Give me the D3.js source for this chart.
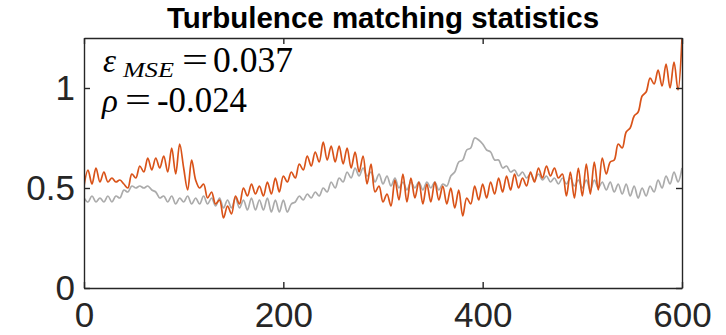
<!DOCTYPE html>
<html>
<head>
<meta charset="utf-8">
<script src="https://cdn.jsdelivr.net/npm/d3@7"></script>
<style>
  html, body { margin: 0; padding: 0; background: #fff; }
  svg { display: block; }
</style>
</head>
<body>
<svg id="chart" width="726" height="335"></svg>
<script>
// Sample spacing along the horizontal axis
const sampleStep = 4;

// Reconstructed turbulence signal (orange)
const reconstructed = [
  0.51, 0.59, 0.52, 0.60, 0.53, 0.58, 0.53, 0.55, 0.53, 0.54,
  0.52, 0.50, 0.57, 0.55, 0.61, 0.58, 0.65, 0.59, 0.65, 0.60,
  0.66, 0.58, 0.70, 0.57, 0.72, 0.60, 0.49, 0.64, 0.54, 0.50,
  0.52, 0.45, 0.48, 0.42, 0.44, 0.35, 0.41, 0.37, 0.46, 0.42,
  0.50, 0.46, 0.52, 0.47, 0.51, 0.46, 0.53, 0.47, 0.55, 0.48,
  0.56, 0.53, 0.58, 0.55, 0.62, 0.59, 0.66, 0.61, 0.68, 0.63,
  0.73, 0.64, 0.71, 0.63, 0.71, 0.62, 0.70, 0.60, 0.68, 0.58,
  0.66, 0.52, 0.62, 0.48, 0.51, 0.43, 0.47, 0.41, 0.54, 0.44,
  0.57, 0.43, 0.55, 0.45, 0.53, 0.42, 0.52, 0.43, 0.53, 0.44,
  0.51, 0.42, 0.50, 0.40, 0.49, 0.36, 0.45, 0.42, 0.51, 0.44,
  0.52, 0.45, 0.53, 0.47, 0.55, 0.48, 0.56, 0.49, 0.57, 0.50,
  0.55, 0.51, 0.58, 0.53, 0.60, 0.55, 0.61, 0.56, 0.60, 0.55,
  0.57, 0.46, 0.58, 0.45, 0.60, 0.46, 0.62, 0.47, 0.63, 0.49,
  0.65, 0.57, 0.63, 0.64, 0.72, 0.70, 0.78, 0.80, 0.86, 0.88,
  0.96, 0.98, 1.05, 1.02, 1.09, 1.01, 1.12, 1.00, 1.13, 0.99,
  1.25
];

// Reference turbulence signal (gray)
const reference = [
  0.45, 0.43, 0.46, 0.43, 0.45, 0.43, 0.46, 0.43, 0.46, 0.45,
  0.49, 0.48, 0.51, 0.50, 0.51, 0.50, 0.51, 0.49, 0.48, 0.45,
  0.46, 0.43, 0.46, 0.42, 0.45, 0.43, 0.46, 0.42, 0.45, 0.42,
  0.46, 0.42, 0.45, 0.41, 0.45, 0.40, 0.44, 0.40, 0.45, 0.40,
  0.44, 0.39, 0.45, 0.39, 0.44, 0.39, 0.45, 0.38, 0.44, 0.38,
  0.44, 0.38, 0.42, 0.43, 0.46, 0.44, 0.47, 0.45, 0.48, 0.46,
  0.50, 0.48, 0.53, 0.50, 0.55, 0.53, 0.58, 0.55, 0.60, 0.56,
  0.60, 0.56, 0.58, 0.53, 0.57, 0.52, 0.56, 0.51, 0.55, 0.50,
  0.53, 0.49, 0.53, 0.50, 0.53, 0.49, 0.53, 0.50, 0.53, 0.49,
  0.52, 0.51, 0.56, 0.58, 0.63, 0.64, 0.69, 0.70, 0.75, 0.74,
  0.72, 0.69, 0.68, 0.64, 0.64, 0.60, 0.61, 0.58, 0.59, 0.56,
  0.58, 0.55, 0.57, 0.54, 0.57, 0.54, 0.56, 0.53, 0.55, 0.52,
  0.55, 0.52, 0.55, 0.51, 0.54, 0.50, 0.54, 0.49, 0.54, 0.50,
  0.53, 0.49, 0.53, 0.48, 0.52, 0.47, 0.52, 0.46, 0.51, 0.45,
  0.50, 0.46, 0.51, 0.48, 0.54, 0.50, 0.56, 0.52, 0.58, 0.53,
  0.60
];

const xTicks = [0, 200, 400, 600];
const yTicks = [0, 0.5, 1];
const xDomain = [0, 600];
const yDomain = [0, 1.25];

const titleText = "Turbulence matching statistics";
const mseValue = "0.037";
const rhoValue = "-0.024";

const W = 726, H = 335;
const margin = { top: 38, right: 44, bottom: 47, left: 84 };
const innerW = W - margin.left - margin.right;
const innerH = H - margin.top - margin.bottom;

const axisColor = "#262626";
const orange = "#D95319";
const gray = "#ABABAB";
const sansFont = "'Liberation Sans', Arial, Helvetica, sans-serif";
const serifFont = "'Liberation Serif', 'Times New Roman', serif";

const svg = d3.select("#chart");

const x = d3.scaleLinear().domain(xDomain).range([0, innerW]);
const y = d3.scaleLinear().domain(yDomain).range([innerH, 0]);

const g = svg.append("g").attr("transform", `translate(${margin.left},${margin.top})`);

g.append("clipPath").attr("id", "plot-clip")
  .append("rect").attr("x", 0).attr("y", -1).attr("width", innerW).attr("height", innerH + 1);

const line = d3.line()
  .x((d, i) => x(i * sampleStep))
  .y(d => y(d))
  .curve(d3.curveCatmullRom.alpha(0.5));

const lines = g.append("g").attr("clip-path", "url(#plot-clip)");

lines.append("path")
  .datum(reference)
  .attr("fill", "none")
  .attr("stroke", gray)
  .attr("stroke-width", 1.7)
  .attr("stroke-linejoin", "round")
  .attr("d", line);

lines.append("path")
  .datum(reconstructed)
  .attr("fill", "none")
  .attr("stroke", orange)
  .attr("stroke-width", 1.7)
  .attr("stroke-linejoin", "round")
  .attr("d", line);

// Boxed axes with inward ticks on all four sides
const tickFont = "35px";
function styleAxis(sel, showLabels) {
  sel.select(".domain").attr("stroke", axisColor).attr("stroke-width", 1.4);
  sel.selectAll(".tick line").attr("stroke", axisColor).attr("stroke-width", 1.4);
  sel.selectAll(".tick text")
    .attr("fill", axisColor)
    .style("font-family", sansFont)
    .style("font-size", tickFont);
  if (!showLabels) sel.selectAll(".tick text").remove();
}

const bottomAxis = g.append("g")
  .attr("transform", `translate(0,${innerH})`)
  .call(d3.axisBottom(x).tickValues(xTicks).tickFormat(d3.format("d"))
    .tickSizeInner(-6).tickSizeOuter(0));
styleAxis(bottomAxis, true);
bottomAxis.selectAll(".tick text").attr("dy", null).attr("y", 38.5);

const topAxis = g.append("g")
  .call(d3.axisTop(x).tickValues(xTicks).tickSizeInner(-6).tickSizeOuter(0));
styleAxis(topAxis, false);

const leftAxis = g.append("g")
  .call(d3.axisLeft(y).tickValues(yTicks).tickFormat(d => d === 0.5 ? "0.5" : d3.format("d")(d))
    .tickSizeInner(-6).tickSizeOuter(0).tickPadding(9));
styleAxis(leftAxis, true);

const rightAxis = g.append("g")
  .attr("transform", `translate(${innerW},0)`)
  .call(d3.axisRight(y).tickValues(yTicks).tickSizeInner(-6).tickSizeOuter(0));
styleAxis(rightAxis, false);

// Title
svg.append("text")
  .attr("x", margin.left + innerW / 2)
  .attr("y", 28)
  .attr("text-anchor", "middle")
  .attr("fill", "#000")
  .style("font-family", sansFont)
  .style("font-weight", "bold")
  .style("font-size", "29.5px")
  .text(titleText);

// Statistics annotation: each line is one text element built from tspans
const ann = svg.append("g")
  .attr("fill", "#000")
  .style("font-family", serifFont)
  .style("font-size", "35px");

const line1 = ann.append("text").attr("y", 71.5);
line1.append("tspan").attr("x", 103).style("font-style", "italic").style("font-size", "33px").text("\u03B5");
line1.append("tspan").attr("x", 123).attr("dy", 5).style("font-style", "italic").style("font-size", "22px")
  .attr("textLength", 51).attr("lengthAdjust", "spacingAndGlyphs").text("MSE");
line1.append("tspan").attr("x", 182).attr("dy", -5)
  .attr("textLength", 26).attr("lengthAdjust", "spacingAndGlyphs").text("=");
line1.append("tspan").attr("x", 213)
  .attr("textLength", 80).attr("lengthAdjust", "spacingAndGlyphs").text(mseValue);

const line2 = ann.append("text").attr("y", 112);
line2.append("tspan").attr("x", 102).style("font-style", "italic").style("font-size", "33px").text("\u03C1");
line2.append("tspan").attr("x", 125)
  .attr("textLength", 26).attr("lengthAdjust", "spacingAndGlyphs").text("=");
line2.append("tspan").attr("x", 157)
  .attr("textLength", 90).attr("lengthAdjust", "spacingAndGlyphs").text(rhoValue);
</script>
</body>
</html>
